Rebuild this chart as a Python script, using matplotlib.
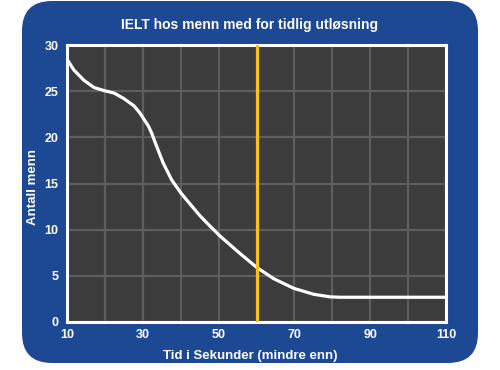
import numpy as np
import matplotlib
matplotlib.use("Agg")
import matplotlib.pyplot as plt
from matplotlib.patches import FancyBboxPatch

# curve
time_s = [10, 10.1, 11.8, 14.4, 17.1, 19.8, 22.4, 25.0, 27.7, 29.3, 30.4,
          31.5, 32.3, 33.3, 35.4, 37.6, 40.0, 41.6, 45.1, 47.7, 50.4, 55.7,
          60.1, 64.5, 69.8, 75.1, 79.5, 82, 110]
men = [28.6, 28.4, 27.3, 26.2, 25.4, 25.06, 24.8, 24.2, 23.4, 22.6, 21.9,
       21.2, 20.5, 19.4, 17.2, 15.4, 14.0, 13.2, 11.5, 10.4, 9.3, 7.4,
       5.9, 4.7, 3.65, 3.0, 2.72, 2.68, 2.68]
cutoff = 60
xticks = [10, 20, 30, 40, 50, 60, 70, 80, 90, 100, 110]
xlabels = ["10", "", "30", "", "50", "", "70", "", "90", "", "110"]
yticks = [0, 5, 10, 15, 20, 25, 30]

BLUE = "#1c4894"; DARK = "#3c3c3c"; GRID = "#5b605e"; YEL = "#f7c21c"
plt.rcParams.update({"font.family": "Liberation Sans", "font.weight": "bold"})

W, H = 500, 370
fig = plt.figure(figsize=(5, 3.7), dpi=100)
fig.patch.set_facecolor("white")
bg = fig.add_axes([0, 0, 1, 1])
bg.set_xlim(0, W); bg.set_ylim(0, H); bg.axis("off")
bg.add_patch(FancyBboxPatch((22, H - 363), 456, 362,
                            boxstyle="round,pad=0,rounding_size=30",
                            fc=BLUE, ec="none"))

L, R, T, B = 67, 446, 45, 322
ax = fig.add_axes([L / W, (H - B) / H, (R - L) / W, (B - T) / H])
ax.set_facecolor(DARK)
ax.plot(time_s, men, color="white", lw=2.3, solid_capstyle="round",
        solid_joinstyle="round", zorder=3)
ax.axvline(cutoff, color=YEL, lw=2.3, zorder=4)
ax.set_xlim(10, 110); ax.set_ylim(0, 30)
ax.set_xticks(xticks, xlabels)
ax.set_yticks(yticks)
ax.grid(color=GRID, lw=1.6, zorder=1)
ax.set_axisbelow(True)
for s in ax.spines.values():
    s.set_color("white"); s.set_linewidth(2.2)
ax.tick_params(length=0, colors="white", labelsize=9)
ax.tick_params(axis="x", pad=5)
ax.tick_params(axis="y", pad=6)
for t in ax.get_xticklabels() + ax.get_yticklabels():
    t.set_fontweight("bold")

fig.text(0.5, 1 - 25 / H, "IELT hos menn med for tidlig utløsning", color="white",
         fontsize=10, fontweight="bold", ha="center", va="center")
fig.text(33 / W, 1 - 187 / H, "Antall menn", color="white", fontsize=9.5,
         fontweight="bold", rotation=90, ha="center", va="center")
fig.text(0.5, 1 - 356 / H, "Tid i Sekunder (mindre enn)", color="white",
         fontsize=9.5, fontweight="bold", ha="center", va="center")

fig.savefig("out.png", dpi=100)
